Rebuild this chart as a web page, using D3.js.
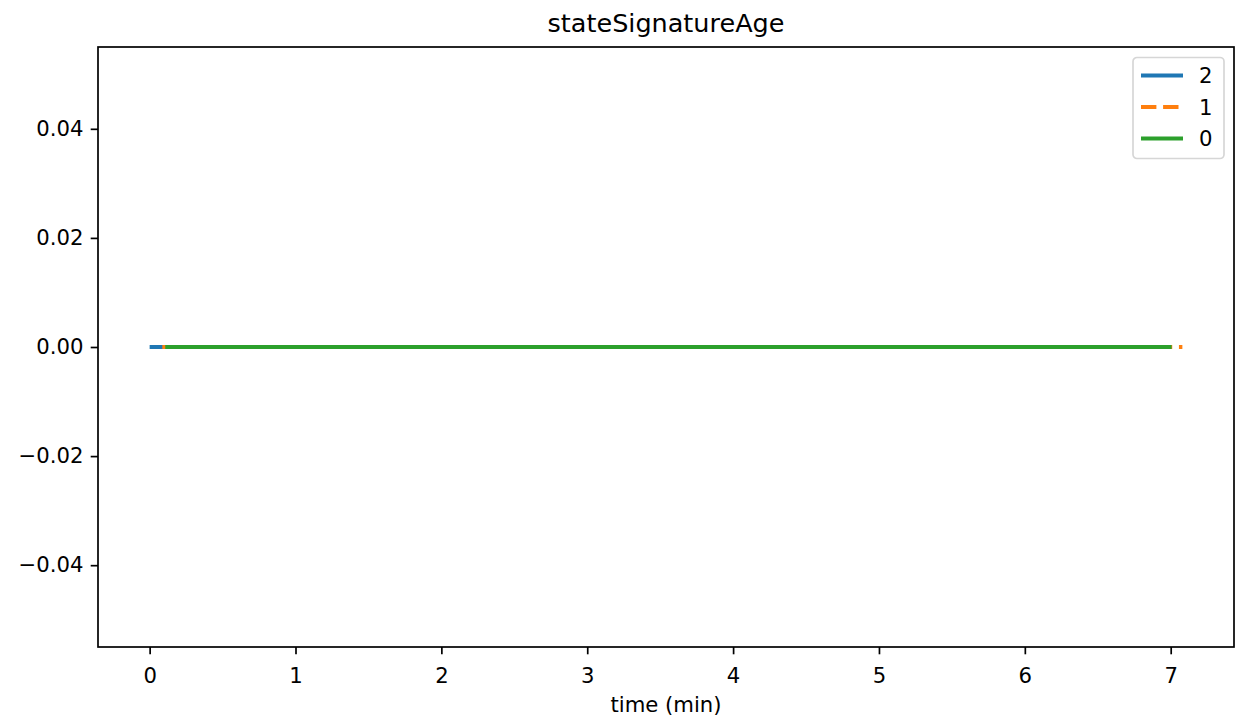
<!DOCTYPE html>
<html>
<head>
<meta charset="utf-8">
<script src="https://d3js.org/d3.v7.min.js"></script>
<style>
  body { margin: 0; background: #fff; }
  svg text { font-family: "DejaVu Sans", sans-serif; fill: #000; }
</style>
</head>
<body>
<svg width="1237" height="719"></svg>
<script>
// series: time (min) and value, one array pair per node
var seriesNames = ["2", "1", "0"];
var time2 = [0.0, 7.0];
var value2 = [0, 0];
var time1 = [0.087, 7.08];
var value1 = [0, 0];
var time0 = [0.107, 7.006];
var value0 = [0, 0];
var colors = ["#1f77b4", "#ff7f0e", "#2ca02c"];
var xTicks = [0, 1, 2, 3, 4, 5, 6, 7];
var yTicks = [-0.04, -0.02, 0, 0.02, 0.04];

var series = [
  { id: "2", values: time2.map(function(t, i) { return { t: t, v: value2[i] }; }) },
  { id: "1", values: time1.map(function(t, i) { return { t: t, v: value1[i] }; }) },
  { id: "0", values: time0.map(function(t, i) { return { t: t, v: value0[i] }; }) }
];

var svg = d3.select("svg"),
  margin = { top: 47, right: 3, bottom: 72, left: 98 },
  width = +svg.attr("width") - margin.left - margin.right,
  height = +svg.attr("height") - margin.top - margin.bottom,
  g = svg.append("g").attr("transform", "translate(" + margin.left + "," + margin.top + ")");

// matplotlib-ish 5% margins
var allT = [].concat(time2, time1, time0);
var tMin = d3.min(allT), tMax = d3.max(allT), pad = (tMax - tMin) * 0.05;
var x = d3.scaleLinear().domain([tMin - pad, tMax + pad]).range([0, width]);
var y = d3.scaleLinear().domain([-0.055, 0.055]).range([height, 0]);

var line = d3.line()
  .x(function(d) { return x(d.t); })
  .y(function(d) { return y(d.v); });

// lines
g.selectAll(".series")
  .data(series)
  .enter().append("path")
  .attr("class", "series")
  .attr("d", function(d) { return line(d.values); })
  .attr("fill", "none")
  .attr("stroke", function(d, i) { return colors[i]; })
  .attr("stroke-width", 4.2)
  .attr("stroke-dasharray", function(d) { return d.id === "1" ? "15.4,6.7" : null; });

// axes
var xAxis = g.append("g")
  .attr("transform", "translate(0," + height + ")")
  .call(d3.axisBottom(x).tickValues(xTicks).tickFormat(d3.format("d")).tickSize(7.3).tickPadding(7.3));
var yAxis = g.append("g")
  .call(d3.axisLeft(y).tickValues(yTicks).tickFormat(d3.format(".2f")).tickSize(7.3).tickPadding(7.3));

[xAxis, yAxis].forEach(function(a) {
  a.select(".domain").remove();
  a.selectAll("line").attr("stroke", "#000").attr("stroke-width", 1.7);
  a.selectAll("text").attr("font-size", 21.2).attr("font-family", "DejaVu Sans");
});
// baseline of x tick labels
xAxis.selectAll("text").attr("y", 35.5).attr("dy", 0);

// frame
g.append("rect")
  .attr("width", width).attr("height", height)
  .attr("fill", "none").attr("stroke", "#000").attr("stroke-width", 1.7);

// title & label
svg.append("text")
  .attr("x", margin.left + width / 2).attr("y", 32)
  .attr("text-anchor", "middle").attr("font-size", 25.5)
  .text("stateSignatureAge");
svg.append("text")
  .attr("x", margin.left + width / 2).attr("y", 712)
  .attr("text-anchor", "middle").attr("font-size", 21.2)
  .text("time (min)");

// legend
var leg = g.append("g").attr("transform", "translate(" + (width - 101) + ",10.5)");
leg.append("rect")
  .attr("width", 91).attr("height", 101).attr("rx", 4)
  .attr("fill", "#fff").attr("fill-opacity", 0.8)
  .attr("stroke", "#d6d6d6").attr("stroke-width", 1.7);
var rows = leg.selectAll(".row").data(seriesNames).enter().append("g")
  .attr("transform", function(d, i) { return "translate(0," + (18 + i * 31.5) + ")"; });
rows.append("line")
  .attr("x1", 8).attr("x2", 50)
  .attr("stroke", function(d, i) { return colors[i]; })
  .attr("stroke-width", 4.2)
  .attr("stroke-dasharray", function(d) { return d === "1" ? "15.4,6.7" : null; });
rows.append("text")
  .attr("x", 66).attr("y", 7.5).attr("font-size", 21.2)
  .text(function(d) { return d; });
</script>
</body>
</html>
